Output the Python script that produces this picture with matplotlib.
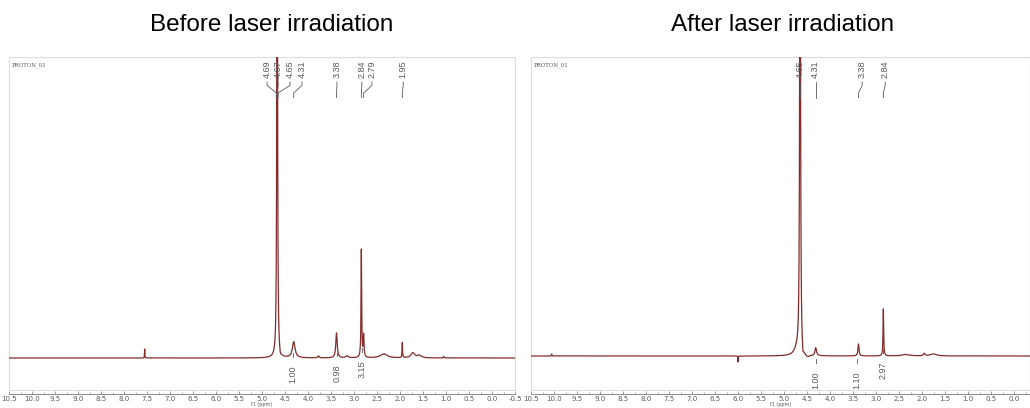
import numpy as np
import matplotlib.pyplot as plt
import matplotlib.transforms as mtrans
from matplotlib.patches import Rectangle

###############################################################################
# Data: peak ppm, height (a.u.), half width (ppm)
###############################################################################
BEFORE_PPM = [7.55, 4.67, 4.60, 4.31, 3.77, 3.38, 3.15, 2.84, 2.79, 2.35,
              1.95, 1.72, 1.58, 1.05]
BEFORE_HGT = [9.0, 700.0, -4.0, 16.0, 2.0, 25.0, 2.0, 108.0, 22.0, 4.0,
              15.0, 5.0, 2.5, 1.5]
BEFORE_WID = [0.004, 0.008, 0.02, 0.035, 0.015, 0.018, 0.03, 0.008, 0.01,
              0.09, 0.006, 0.05, 0.05, 0.008]

AFTER_PPM = [10.05, 6.00, 4.72, 4.65, 4.59, 4.50, 4.31, 3.38, 2.84, 2.35,
             1.95, 1.75]
AFTER_HGT = [2.0, -6.0, 6.0, 700.0, -9.0, -3.0, 8.0, 12.0, 47.0, 1.5,
             2.5, 2.0]
AFTER_WID = [0.006, 0.003, 0.07, 0.009, 0.02, 0.06, 0.02, 0.014, 0.008,
             0.1, 0.02, 0.08]

# peak picking labels: text, peak ppm, label ppm
BEFORE_PICK = [('4.69', 4.69, 4.89), ('4.67', 4.67, 4.65), ('4.65', 4.65, 4.39),
               ('4.31', 4.31, 4.13), ('3.38', 3.38, 3.37), ('2.84', 2.84, 2.83),
               ('2.79', 2.79, 2.61), ('1.95', 1.95, 1.93)]
AFTER_PICK = [('4.65', 4.65, 4.65), ('4.31', 4.31, 4.31),
              ('3.38', 3.38, 3.30), ('2.84', 2.84, 2.80)]

# integrals: text, ppm, label height (axes fraction)
BEFORE_INT = [('1.00', 4.33, 0.048), ('0.98', 3.37, 0.050), ('3.15', 2.83, 0.063)]
AFTER_INT = [('1.00', 4.30, 0.030), ('1.10', 3.41, 0.030), ('2.97', 2.84, 0.060)]

TITLES = ['Before laser irradiation', 'After laser irradiation']

###############################################################################
# Plot
###############################################################################
LINE = '#842b2b'
GREY = '#5a5a5a'
W, H = 1030, 408
fig = plt.figure(figsize=(W / 100, H / 100), dpi=100)

panels = [
    (9, 10.5, -0.5, -0.5, BEFORE_PPM, BEFORE_HGT, BEFORE_WID, BEFORE_PICK,
     BEFORE_INT, 272, -32, 301),
    (531, 10.5, 10.5 - 499 / 46, 0.0, AFTER_PPM, AFTER_HGT, AFTER_WID,
     AFTER_PICK, AFTER_INT, 783, -34, 299),
]
for i, (x0, xa, xb, tlast, ppm, hgt, wid, pick, integ, tx, ylo, yhi) in enumerate(panels):
    width = (xa - xb) * 46
    ax = fig.add_axes([x0 / W, 18 / H, width / W, 333 / H])
    x = np.linspace(xb, xa, 30000)
    y = np.zeros_like(x)
    for p, h, w in zip(ppm, hgt, wid):
        y += h / (1 + ((x - p) / w) ** 2)
    ax.plot(x, y, color=LINE, lw=0.9)
    ax.set_xlim(xa, xb)
    ax.set_ylim(ylo, yhi)
    ax.set_yticks([])
    for s in ['top', 'right', 'left']:
        ax.spines[s].set_visible(False)
    ax.spines['bottom'].set_position(('outward', 3))
    ax.spines['bottom'].set_color('#777777')
    ax.spines['bottom'].set_linewidth(0.6)
    ax.add_patch(Rectangle((0, 0), 1, 1, transform=ax.transAxes, fill=False,
                           edgecolor='#dddddd', lw=0.8, clip_on=False))
    major = np.arange(10.5, tlast - 0.01, -0.5)
    ax.set_xticks(major)
    ax.set_xticks(np.arange(10.5, xb - 0.01, -0.25), minor=True)
    ax.set_xticklabels(['%.1f' % t for t in major])
    ax.tick_params(axis='x', which='both', direction='in', color='#777777',
                   labelsize=5, labelcolor=GREY, pad=1.5)
    ax.tick_params(axis='x', which='major', length=2.5, width=0.5)
    ax.tick_params(axis='x', which='minor', length=1.5, width=0.4)
    ax.set_xlabel('f1 (ppm)', fontsize=3.5, color=GREY, labelpad=0)
    ax.text(0.006, 0.985, 'PROTON_01', transform=ax.transAxes, fontsize=4,
            family='DejaVu Serif', color=GREY, va='top', ha='left')

    trans = mtrans.blended_transform_factory(ax.transData, ax.transAxes)
    for lab, p, lx in pick:
        ax.text(lx, 0.99, lab, transform=trans, rotation=90, fontsize=6.5,
                color=GREY, ha='center', va='top', family='Liberation Sans')
        ax.plot([lx, lx, p, p], [0.925, 0.915, 0.892, 0.878], color=GREY,
                lw=0.6, transform=trans, clip_on=False)
    for lab, p, ly in integ:
        ax.text(p, ly, lab, transform=trans, rotation=90, fontsize=6.5,
                color=GREY, ha='center', va='center', family='Liberation Sans')
        ax.plot([p, p], [ly + 0.052, ly + 0.062], color=GREY, lw=0.6,
                transform=trans)

    fig.text(tx / W, 1 - 25 / H, TITLES[i], fontsize=17.5,
             family='Liberation Sans', ha='center', va='center')

fig.savefig('out.png', dpi=100)
plt.close('all')
